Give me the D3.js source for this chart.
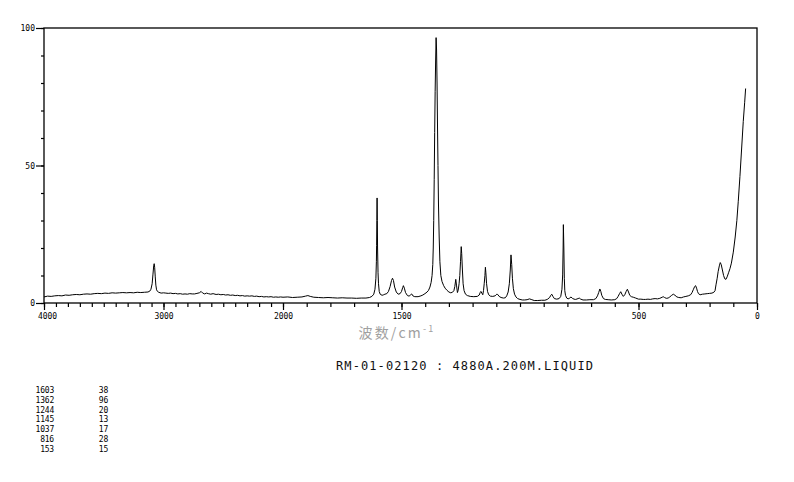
<!DOCTYPE html>
<html><head><meta charset="utf-8">
<script src="https://cdn.jsdelivr.net/npm/d3@7"></script>
<style>body{margin:0;background:#fff}svg{display:block}</style>
</head><body><svg id="c" width="794" height="482"></svg>
<script>
// ---- data ----
const wavenumbers = [4000,3970,3940,3910,3880,3850,3820,3790,3760,3730,3700,3670,3640,3610,3580,3550,3520,3490,3460,3430,3400,3370,3340,3310,3280,3250,3220,3190,3160,3130,3115,3105,3095,3088,3082,3078,3074,3069,3064,3058,3050,3040,3020,3000,2980,2960,2940,2920,2900,2880,2860,2840,2820,2800,2780,2760,2740,2720,2700,2685,2672,2655,2640,2625,2605,2585,2560,2540,2520,2500,2480,2460,2440,2420,2400,2380,2360,2340,2320,2300,2280,2260,2240,2220,2200,2180,2160,2140,2120,2100,2080,2060,2040,2020,2000,
1980,1960,1940,1920,1905,1895,1885,1870,1850,1830,1810,1790,1770,1750,1730,1710,1690,1670,1650,1635,1625,1617,1612,1608,1606,1605,1604,1603,1602,1601,1599,1597,1594,1590,1582,1575,1570,1562,1555,1548,1542,1538,1534,1529,1522,1514,1506,1500,1495,1492,1488,1483,1475,1468,1461,1457,1452,1444,1430,1418,1410,1401,1392,1386,1380,1375,1371,1368,1366,1364,1362,1360,1358,1356,1354,1352,1350,1348,1346,1344,1341,1338,1334,1329,1322,1316,1308,1300,1292,1285,1279,1275,1271,1268,1264,1261,1257,1254,1251,1248,1246,1243,1240,1236,1230,1222,1210,1195,1180,1172,1168,1165,1161,1157,1154,1151,1148,1146,1144,1141,1137,1132,1125,1115,1105,1098,1094,1088,1080,1070,1062,1056,1050,1045,1041,1038,1035,1032,1028,1023,1017,1010,1000,990,980,970,960,950,940,925,910,895,885,875,870,866,861,855,845,835,828,823,820,818,817,815,813,811,808,803,797,790,785,779,772,765,755,750,744,734,720,705,690,680,673,668,663,659,655,648,640,628,615,600,592,586,580,575,570,564,558,552,547,542,537,530,522,512,500,490,480,470,460,450,440,430,420,410,400,396,390,383,375,368,360,353,346,338,330,320,310,300,290,280,274,268,263,259,255,251,247,240,230,220,210,200,190,182,177,173,168,164,159,155,151,146,141,136,131,126,120,114,108,100,92,85,79,72,65,58,52,48];
const intensities = [2.2,2.5,2.4,2.6,2.7,2.6,2.9,2.8,3.0,3.1,3.0,3.2,3.3,3.2,3.4,3.5,3.4,3.6,3.5,3.7,3.6,3.7,3.8,3.7,3.8,3.7,3.9,3.8,3.9,4.0,4.3,5.0,7.0,10.5,13.5,14.3,13.0,9.5,6.5,4.8,4.2,3.9,3.6,3.7,3.6,3.5,3.6,3.4,3.5,3.3,3.4,3.2,3.3,3.2,3.4,3.3,3.3,3.5,3.7,4.2,3.6,3.3,3.6,3.4,3.2,3.4,3.1,3.2,3.0,3.1,2.9,3.0,2.8,2.9,2.7,2.8,2.6,2.7,2.5,2.6,2.5,2.6,2.4,2.5,2.3,2.4,2.2,2.3,2.2,2.3,2.1,2.2,2.1,2.2,2.1,
2.2,2.0,2.1,2.2,2.5,2.7,2.4,2.1,2.0,1.9,2.0,1.9,1.8,1.9,1.8,1.8,1.7,1.8,1.8,2.0,2.4,3.2,5.0,9.0,15,21,30,38.2,30,20,11,7,4.2,3.2,2.8,3.0,3.2,3.4,4.2,6.0,8.2,9.0,8.2,5.8,4.0,3.2,3.4,4.2,5.6,6.3,5.4,3.8,2.7,2.5,3.0,3.3,2.6,2.3,2.3,2.6,2.9,3.4,4.0,4.6,5.8,7.5,10,14,20,30,45,62,77,88,96.5,92,80,64,50,36,24,15,10,7.8,6.3,5.4,4.6,4.0,3.7,3.9,4.5,6.0,8.6,6.5,3.8,4.6,7.0,10,15,20.5,18,12,7,4.5,3.2,2.7,2.4,2.3,2.4,2.9,3.8,4.2,3.6,3.0,4.5,7,10,13,11,7,4.2,3.0,2.5,2.4,2.6,3.2,3.1,2.4,2.0,1.8,1.9,2.6,4.0,7.0,12,17.5,14,9,5.2,3.2,2.2,1.6,1.3,1.1,1.1,1.2,1.5,1.2,0.9,0.9,1.0,1.0,1.3,2.0,2.8,3.2,2.4,1.6,1.4,1.6,2.4,5.0,10.2,20,28.5,20,9,4.5,2.8,1.8,1.5,1.8,2.2,1.7,1.4,1.3,1.6,1.8,1.4,1.1,1.1,1.2,1.2,1.6,2.6,3.8,5.1,4.2,2.8,1.6,1.3,1.2,1.1,1.2,1.6,2.4,3.4,4.1,3.2,2.4,3.0,4.2,5.0,4.0,2.8,2.3,2.1,1.8,1.4,1.4,1.3,1.3,1.4,1.3,1.5,1.6,1.5,1.7,2.1,2.3,2.0,1.7,1.8,2.2,2.8,3.2,2.8,2.2,2.0,1.9,2.2,2.4,2.6,3.0,3.8,5.0,6.0,6.3,5.4,4.2,3.4,3.0,3.2,3.3,3.4,3.5,3.6,3.9,4.5,6.6,9.0,11.4,13.5,14.7,14.0,12.0,10.0,8.8,8.6,9.5,11.0,12.5,14.5,18.5,24,30,37,46,56,66,73,78];
const yMinorTicks = [0,10,20,30,40,50,60,70,80,90,100];
const yLabelTicks = [0,50,100];
const xMinorTicks = [4000,3900,3800,3700,3600,3500,3400,3300,3200,3100,3000,2900,2800,2700,2600,2500,2400,2300,2200,2100,2000,1900,1800,1700,1600,1500,1400,1300,1200,1100,1000,900,800,700,600,500,400,300,200,100,0];
const xLabelTicks = [4000,3000,2000,1500,500,0];
const peakWavenumbers = [1603,1362,1244,1145,1037,816,153];
const peakIntensities = [38,96,20,13,17,28,15];
const axisTitle = "波数/cm";
const axisTitleSup = "-1";
const chartTitle = "RM-01-02120 : 4880A.200M.LIQUID";

// ---- drawing ----
const svg = d3.select("#c");
const x = d3.scaleLinear().domain([4000, 2000, 0]).range([44, 283, 757]);
const y = d3.scaleLinear().domain([0, 100]).range([303, 28]);
const mono = "'DejaVu Sans Mono', monospace";

// frame
svg.append("rect").attr("x", 44).attr("y", 28).attr("width", 713).attr("height", 275)
  .attr("fill", "none").attr("stroke", "#000").attr("stroke-width", 1.3);

// y axis
const gy1 = svg.append("g").attr("transform", "translate(44,0)")
  .call(d3.axisLeft(y).tickValues(yMinorTicks).tickSize(3).tickFormat(""));
const gy2 = svg.append("g").attr("transform", "translate(44,0)")
  .call(d3.axisLeft(y).tickValues(yLabelTicks).tickSize(8).tickPadding(1).tickFormat(d3.format("d")));
// x axis
const gx1 = svg.append("g").attr("transform", "translate(0,303)")
  .call(d3.axisBottom(x).tickValues(xMinorTicks).tickSize(4).tickFormat(""));
const gx2 = svg.append("g").attr("transform", "translate(0,303)")
  .call(d3.axisBottom(x).tickValues(xLabelTicks).tickSize(7).tickPadding(3).tickFormat(d3.format("d")));
[gy1, gy2, gx1, gx2].forEach(g => {
  g.select(".domain").remove();
  g.selectAll("line").attr("stroke", "#000").attr("stroke-width", 1.2);
  g.selectAll("text").attr("font-family", mono).attr("font-size", "8px").attr("fill", "#000");
});
gx2.selectAll("text").filter(d => d === 4000).attr("dx", 3);

// spectrum
const pts = wavenumbers.map((w, i) => [w, intensities[i]]);
svg.append("path").datum(pts)
  .attr("fill", "none").attr("stroke", "#000").attr("stroke-width", 1)
  .attr("d", d3.line().x(d => x(d[0])).y(d => y(d[1])));

// axis title
const at = svg.append("text").attr("x", 397).attr("y", 338).attr("text-anchor", "middle")
  .attr("font-family", "'Noto Sans CJK SC', sans-serif").attr("font-size", "14px")
  .attr("fill", "#a0a0a0").attr("letter-spacing", "2.2px");
at.append("tspan").text(axisTitle);
at.append("tspan").attr("dy", -6).attr("font-size", "9px").text(axisTitleSup);

// chart title
svg.append("text").attr("x", 336).attr("y", 369.5)
  .attr("font-family", mono).attr("font-size", "12px").attr("letter-spacing", "1.1px")
  .attr("fill", "#111").text(chartTitle);

// peak table
const rows = svg.append("g").selectAll("g").data(peakWavenumbers).join("g")
  .attr("transform", (d, i) => `translate(0,${393 + i * 9.8})`);
rows.append("text").attr("x", 54).attr("text-anchor", "end")
  .attr("font-family", mono).attr("font-size", "8px").attr("letter-spacing", "-0.2px")
  .text(d => d);
rows.append("text").attr("x", 108).attr("text-anchor", "end")
  .attr("font-family", mono).attr("font-size", "8px").attr("letter-spacing", "-0.2px")
  .text((d, i) => peakIntensities[i]);
</script></body></html>
